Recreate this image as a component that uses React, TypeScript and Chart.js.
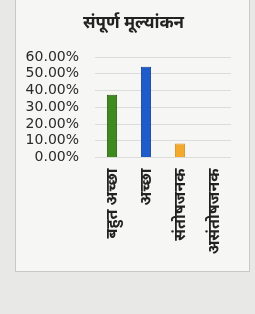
import React, { useEffect, useRef } from "react";
import { Chart, registerables } from "chart.js";

Chart.register(...registerables);

const title = "संपूर्ण मूल्यांकन";
const categories = ["बहुत अच्छा", "अच्छा", "संतोषजनक", "असंतोषजनक"];
const values = [37.5, 54.17, 8.33, 0];
const barColors = ["#3f8a1f", "#1d5cc9", "#f3a92c", "#888888"];
const borderColors = ["#2a5e16", "#143f8f", "#d68f1e", "#666666"];
const yTicks = [0, 10, 20, 30, 40, 50, 60];

const titlePlugin = {
  id: "centeredTitle",
  afterDraw(chart: any) {
    const c = chart.ctx;
    c.save();
    c.fillStyle = "#222";
    c.font = "bold 17px 'Noto Sans', 'DejaVu Sans', sans-serif";
    c.textAlign = "center";
    c.textBaseline = "middle";
    c.fillText(title, chart.width / 2, 24);
    c.restore();
  },
};

export default function App() {
  const ref = useRef<HTMLCanvasElement | null>(null);
  useEffect(() => {
    document.body.style.margin = "0";
    const ctx = ref.current!;
    const chart = new Chart(ctx, {
      type: "bar",
      data: {
        labels: categories,
        datasets: [
          {
            data: values,
            backgroundColor: barColors,
            borderColor: borderColors,
            borderWidth: 1,
            categoryPercentage: 1,
            barPercentage: 0.3,
          },
        ],
      },
      plugins: [titlePlugin],
      options: {
        animation: false,
        responsive: false,
        maintainAspectRatio: false,
        devicePixelRatio: 1,
        layout: { padding: { left: 0, right: 20, top: 58, bottom: 15 } },
        plugins: {
          legend: { display: false },
          tooltip: { enabled: false },
          title: { display: false },
        },
        scales: {
          x: {
            grid: { display: false, drawTicks: false },
            border: { display: false },
            ticks: {
              minRotation: 90,
              maxRotation: 90,
              autoSkip: false,
              padding: 11,
              color: "#222",
              font: { family: "'Noto Sans', 'DejaVu Sans', sans-serif", size: 16, weight: "bold" },
            },
          },
          y: {
            min: 0,
            max: 60,
            afterBuildTicks: (axis: any) => {
              axis.ticks = yTicks.map((v) => ({ value: v }));
            },
            afterFit: (axis: any) => {
              axis.width = 79;
            },
            grid: { color: "#dcdcdc", lineWidth: 1, drawTicks: false },
            border: { display: false },
            ticks: {
              autoSkip: false,
              padding: 16,
              color: "#2a2a2a",
              font: { family: "'DejaVu Sans', sans-serif", size: 14 },
              callback: (v: any) => Number(v).toFixed(2) + "%",
            },
          },
        },
      },
    });
    return () => chart.destroy();
  }, []);
  return (
    <div style={{ position: "absolute", left: 0, top: 0, width: 255, height: 314, background: "#e8e8e6", overflow: "hidden" }}>
      <div
        style={{
          position: "absolute",
          left: 15,
          top: -2,
          width: 235,
          height: 274,
          background: "#f6f6f4",
          border: "1px solid #c9c9c7",
          boxSizing: "border-box",
        }}
      >
        <canvas ref={ref} width={235} height={274} style={{ display: "block", width: 235, height: 274 }} />
      </div>
    </div>
  );
}
